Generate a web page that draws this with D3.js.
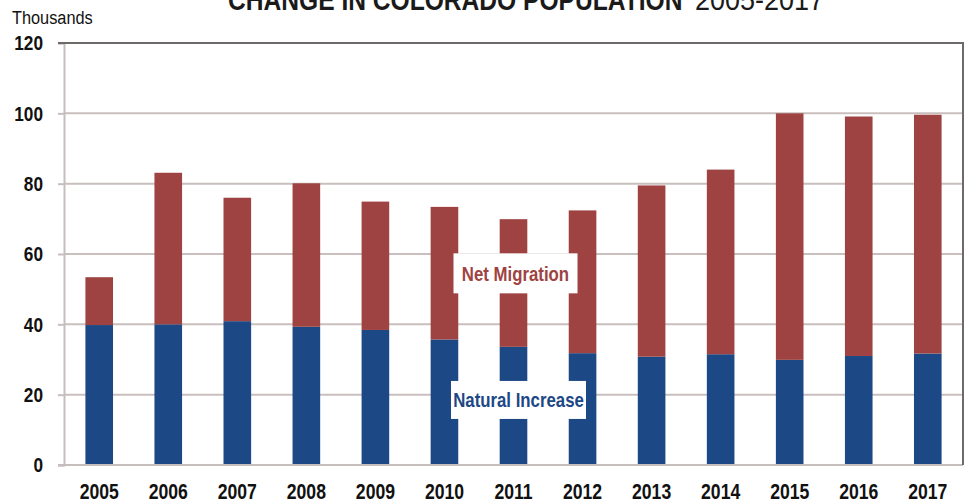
<!DOCTYPE html>
<html>
<head>
<meta charset="utf-8">
<script src="https://cdn.jsdelivr.net/npm/d3@7"></script>
<style>
  html, body { margin: 0; padding: 0; background: #fff; }
  svg { display: block; }
  text { font-family: "Liberation Sans", Arial, sans-serif; }
</style>
</head>
<body>
<svg id="chart" width="966" height="503"></svg>
<script>
const years = ["2005","2006","2007","2008","2009","2010","2011","2012","2013","2014","2015","2016","2017"];
const naturalIncrease = [39.8, 40.0, 40.9, 39.3, 38.4, 35.7, 33.6, 31.8, 30.8, 31.5, 29.9, 31.0, 31.7];
const totalChange = [53.4, 83.1, 76.0, 80.1, 74.9, 73.4, 69.9, 72.4, 79.5, 84.0, 100.0, 99.1, 99.6];
const netMigration = totalChange.map((t, i) => +(t - naturalIncrease[i]).toFixed(1));
const yTicks = [0, 20, 40, 60, 80, 100, 120];
const seriesNames = ["Natural Increase", "Net Migration"];
const colors = { "Natural Increase": "#1d4886", "Net Migration": "#9e4341" };

const svg = d3.select("#chart");
const margin = { left: 64, right: 3, top: 43, bottom: 38 };
const W = 966, H = 503;

// horizontally condense text (no narrow font installed)
function narrow(sel, sx) {
  sel.each(function () {
    const t = d3.select(this);
    const x0 = +t.attr("x") || 0;
    t.attr("x", x0 / sx).attr("transform", `scale(${sx},1)`);
  });
}

const x = d3.scaleBand().domain(years)
  .range([margin.left, W - margin.right])
  .paddingInner(0.6).paddingOuter(0.31);
const y = d3.scaleLinear().domain([0, 120]).range([H - margin.bottom, margin.top]);

// gridlines
svg.append("g").selectAll("line").data(yTicks.filter(d => d > 0 && d < 120)).join("line")
  .attr("x1", margin.left).attr("x2", W - margin.right)
  .attr("y1", d => y(d)).attr("y2", d => y(d))
  .attr("stroke", "#c9bfbe").attr("stroke-width", 2);

// y axis
const yAxis = svg.append("g").attr("transform", `translate(${margin.left},0)`)
  .call(d3.axisLeft(y).tickValues(yTicks).tickSize(6).tickPadding(15).tickFormat(d3.format("d")));
yAxis.select(".domain").attr("stroke", "#c6bebd").attr("stroke-width", 2);
yAxis.selectAll(".tick line").attr("stroke", "#c6bebd").attr("stroke-width", 2);
yAxis.selectAll(".tick text").attr("fill", "#111").attr("font-size", 21).attr("font-weight", "bold")
  .attr("font-family", "'Liberation Sans', Arial, sans-serif").call(narrow, 0.82);

// stacked bars
const rows = years.map((yr, i) => ({ year: yr, "Natural Increase": naturalIncrease[i], "Net Migration": netMigration[i] }));
const stack = d3.stack().keys(seriesNames)(rows);
svg.append("g").selectAll("g").data(stack).join("g")
  .attr("fill", d => colors[d.key])
  .selectAll("rect").data(d => d).join("rect")
  .attr("x", d => x(d.data.year))
  .attr("width", x.bandwidth())
  .attr("y", d => y(d[1]))
  .attr("height", d => y(d[0]) - y(d[1]));

// baseline
svg.append("line")
  .attr("x1", margin.left - 6).attr("x2", W - margin.right)
  .attr("y1", y(0)).attr("y2", y(0))
  .attr("stroke", "#c6bebd").attr("stroke-width", 2);

// top and right border
svg.append("path")
  .attr("d", `M${margin.left - 6},${y(120)} H${W - margin.right} V${y(0)}`)
  .attr("fill", "none").attr("stroke", "#6f6a6a").attr("stroke-width", 2);

// x axis labels
const xAxis = svg.append("g").attr("transform", `translate(0,${y(0)})`)
  .call(d3.axisBottom(x).tickSize(0).tickPadding(18));
xAxis.select(".domain").remove();
xAxis.selectAll(".tick text").attr("fill", "#111").attr("font-size", 22).attr("font-weight", "bold")
  .attr("font-family", "'Liberation Sans', Arial, sans-serif").call(narrow, 0.8);

// series labels
function boxLabel(text, cx, cy, w, h, color) {
  const g = svg.append("g");
  g.append("rect").attr("x", cx - w / 2).attr("y", cy - h / 2).attr("width", w).attr("height", h).attr("fill", "#fff");
  g.append("text").attr("x", cx).attr("y", cy).attr("dy", "0.36em").attr("text-anchor", "middle")
    .attr("font-size", 20).attr("font-weight", "bold").attr("fill", color).text(text).call(narrow, 0.84);
}
const labelX = x("2011") + x.bandwidth() / 2;
boxLabel("Net Migration", labelX + 2, y(54.5), 124, 40, colors["Net Migration"]);
boxLabel("Natural Increase", labelX + 5, y(18.5), 135, 38, colors["Natural Increase"]);

// Thousands
svg.append("text").attr("x", 12).attr("y", 24).attr("font-size", 19).attr("fill", "#111")
  .text("Thousands").call(narrow, 0.86);

// title (clipped at top as in the original)
svg.append("text").attr("x", 228).attr("y", 10).attr("font-size", 30).attr("font-weight", "bold")
  .attr("fill", "#1a1a1a").text("CHANGE IN COLORADO POPULATION").call(narrow, 0.82);
svg.append("text").attr("x", 695).attr("y", 10).attr("font-size", 30).attr("font-weight", "normal")
  .attr("fill", "#1a1a1a").text("2005-2017").call(narrow, 0.9);
</script>
</body>
</html>
